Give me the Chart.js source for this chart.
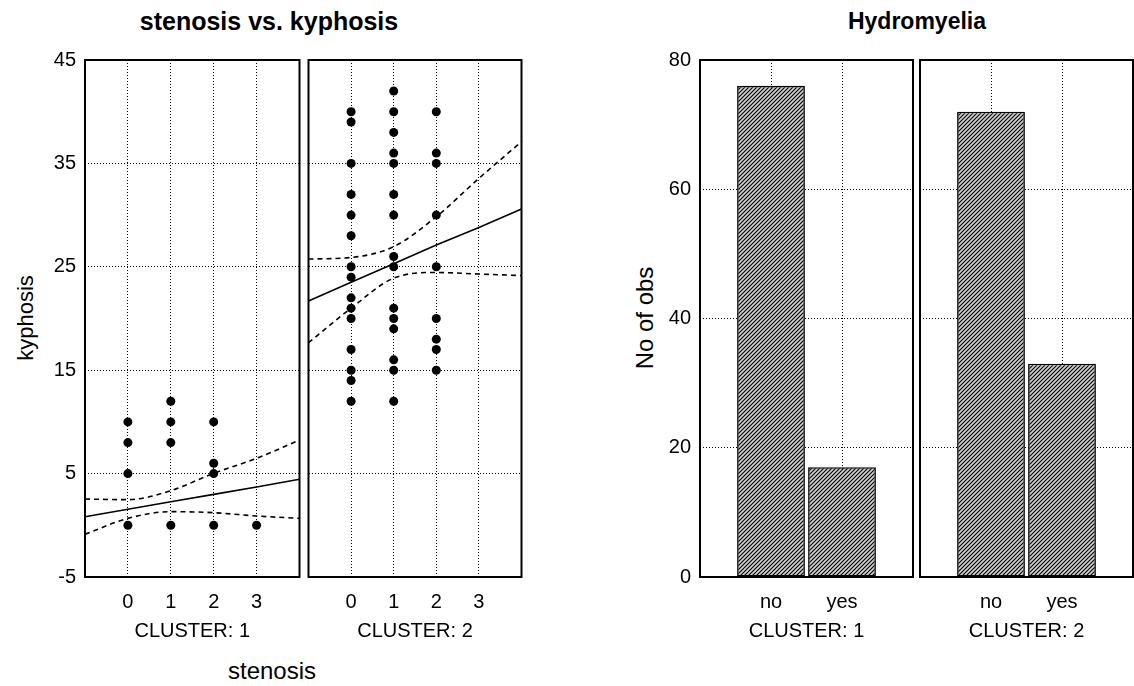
<!DOCTYPE html>
<html>
<head>
<meta charset="utf-8">
<script src="https://cdn.jsdelivr.net/npm/chart.js@4"></script>
<style>
  body { margin: 0; background: #fff; font-family: "Liberation Sans", Arial, sans-serif; }
  #wrap { position: relative; width: 1134px; height: 686px; overflow: hidden; }
  canvas { position: absolute; }
  .txt { position: absolute; color: #000; white-space: nowrap; }
  .title { font-weight: bold; }
  .rot { transform: translate(-50%, -50%) rotate(-90deg); }
</style>
</head>
<body>
<div id="wrap">
  <div class="txt title" style="left:119px; top:7px; width:300px; text-align:center; font-size:25px;">stenosis vs. kyphosis</div>
  <div class="txt title" style="left:767px; top:8px; width:300px; text-align:center; font-size:23px;">Hydromyelia</div>
  <div class="txt rot" style="left:26px; top:318px; font-size:22px;">kyphosis</div>
  <div class="txt rot" style="left:645px; top:318px; font-size:24px;">No of obs</div>
  <div class="txt" style="left:172px; top:657px; width:200px; text-align:center; font-size:24px;">stenosis</div>

  <canvas id="sc1" width="304" height="597" style="left:0px; top:50px;"></canvas>
  <canvas id="sc2" width="222" height="597" style="left:304px; top:50px;"></canvas>
  <canvas id="bar1" width="305" height="597" style="left:610px; top:50px;"></canvas>
  <canvas id="bar2" width="218" height="597" style="left:916px; top:50px;"></canvas>
</div>
<script>
// stenosis vs. kyphosis, cluster 1
const c1Stenosis = [0, 0, 0, 0, 1, 1, 1, 1, 2, 2, 2, 2, 3];
const c1Kyphosis = [10, 8, 5, 0, 12, 10, 8, 0, 10, 6, 5, 0, 0];
// cluster 2
const c2Stenosis = [0,0,0,0,0,0,0,0,0,0,0,0,0,0,0, 1,1,1,1,1,1,1,1,1,1,1,1,1,1,1, 2,2,2,2,2,2,2,2,2];
const c2Kyphosis = [40,39,35,32,30,28,25,24,22,21,20,17,15,14,12, 42,40,38,36,35,32,30,26,25,21,20,19,16,15,12, 40,36,35,30,25,20,18,17,15];

// fit line and confidence band, read at stenosis = -1 .. 4
const bandX = [-1, 0, 1, 2, 3, 4];
const c1Fit = [0.83, 1.55, 2.27, 2.99, 3.71, 4.45];
const c1Upper = [2.54, 2.48, 3.35, 5.03, 6.48, 8.25];
const c1Lower = [-0.87, 0.67, 1.32, 1.22, 0.9, 0.67];
const c2Fit = [21.7, 23.5, 25.3, 27.1, 28.8, 30.6];
const c2Upper = [25.75, 25.9, 26.95, 29.85, 33.55, 37.1];
const c2Lower = [17.66, 21.0, 23.9, 24.45, 24.3, 24.15];

const kyphTicks = [-5, 5, 15, 25, 35, 45];
const stenTicks = [0, 1, 2, 3];

// Hydromyelia counts
const hydroCats = ['', 'no', 'yes', ''];
const hydroC1 = [null, 76, 17, null];
const hydroC2 = [null, 72, 33, null];
const obsTicks = [0, 20, 40, 60, 80];

const FONT = { family: '"Liberation Sans", Arial, sans-serif', size: 20 };

const boxPlugin = {
  id: 'box',
  afterDraw(chart) {
    const a = chart.chartArea, ctx = chart.ctx;
    ctx.save();
    ctx.strokeStyle = '#000';
    ctx.lineWidth = 2;
    ctx.strokeRect(a.left, a.top, a.right - a.left, a.bottom - a.top);
    ctx.restore();
  }
};

function pts(xs, ys) {
  return xs.map((x, i) => ({ x: x, y: ys[i] }));
}

function gridOpts() {
  return { color: '#000', lineWidth: 1, drawTicks: false };
}

// fixed axis sizes, no extra label padding, so every panel lands where it should
function fixX(s) {
  s.height = 70;
  s.paddingLeft = 0; s.paddingRight = 0; s.paddingTop = 0; s.paddingBottom = 0;
}
function fixY(w) {
  return s => {
    s.width = w;
    s.paddingLeft = 0; s.paddingRight = 0; s.paddingTop = 0; s.paddingBottom = 0;
  };
}

function scatterChart(id, xs, ys, fit, up, lo, label, showY) {
  return new Chart(document.getElementById(id), {
    type: 'scatter',
    data: {
      datasets: [
        { data: pts(xs, ys), pointRadius: 4.5, pointBackgroundColor: '#000', pointBorderColor: '#000', borderWidth: 0 },
        { data: pts(bandX, fit), showLine: true, pointRadius: 0, borderColor: '#000', borderWidth: 1.6 },
        { data: pts(bandX, up), showLine: true, pointRadius: 0, borderColor: '#000', borderWidth: 1.6, borderDash: [5, 4], cubicInterpolationMode: 'monotone' },
        { data: pts(bandX, lo), showLine: true, pointRadius: 0, borderColor: '#000', borderWidth: 1.6, borderDash: [5, 4], cubicInterpolationMode: 'monotone' }
      ]
    },
    options: {
      responsive: false,
      animation: false,
      devicePixelRatio: 1,
      layout: { padding: { top: 10, right: showY ? 3 : 2, left: 0, bottom: 0 } },
      plugins: { legend: { display: false }, tooltip: { enabled: false } },
      scales: {
        x: {
          type: 'linear', min: -1, max: 4,
          afterBuildTicks: s => { s.ticks = [-1].concat(stenTicks, [4]).map(v => ({ value: v })); },
          afterFit: fixX,
          grid: gridOpts(),
          border: { display: false, dash: [1, 2] },
          ticks: { font: FONT, color: '#000', padding: 13, callback: v => stenTicks.includes(v) ? String(v) : '' },
          title: { display: true, text: label, font: FONT, color: '#000', padding: { top: 6 } }
        },
        y: {
          min: -5, max: 45,
          afterBuildTicks: s => { s.ticks = kyphTicks.map(v => ({ value: v })); },
          afterFit: fixY(showY ? 85 : 3),
          grid: gridOpts(),
          border: { display: false, dash: [1, 2] },
          ticks: { display: showY, font: FONT, color: '#000', padding: 9 }
        }
      }
    },
    plugins: [boxPlugin]
  });
}

scatterChart('sc1', c1Stenosis, c1Kyphosis, c1Fit, c1Upper, c1Lower, 'CLUSTER: 1', true);
scatterChart('sc2', c2Stenosis, c2Kyphosis, c2Fit, c2Upper, c2Lower, 'CLUSTER: 2', false);

function hatch() {
  const s = 4;
  const c = document.createElement('canvas');
  c.width = s; c.height = s;
  const g = c.getContext('2d');
  g.fillStyle = '#d0d0d0';
  g.fillRect(0, 0, s, s);
  g.strokeStyle = '#000';
  g.lineWidth = 1.1;
  g.beginPath();
  g.moveTo(0, s); g.lineTo(s, 0);
  g.moveTo(-1, 1); g.lineTo(1, -1);
  g.moveTo(s - 1, s + 1); g.lineTo(s + 1, s - 1);
  g.stroke();
  return g.createPattern(c, 'repeat');
}

function barChart(id, vals, label, showY, padRight) {
  return new Chart(document.getElementById(id), {
    type: 'bar',
    data: {
      labels: hydroCats,
      datasets: [{
        data: vals,
        backgroundColor: hatch(),
        borderColor: '#000',
        borderWidth: 1.6,
        borderSkipped: false,
        categoryPercentage: 1,
        barPercentage: 0.955
      }]
    },
    options: {
      responsive: false,
      animation: false,
      devicePixelRatio: 1,
      layout: { padding: { top: 10, right: padRight, left: 0, bottom: 0 } },
      plugins: { legend: { display: false }, tooltip: { enabled: false } },
      scales: {
        x: {
          offset: false,
          afterFit: fixX,
          grid: Object.assign(gridOpts(), { offset: false }),
          border: { display: false, dash: [1, 2] },
          ticks: { font: FONT, color: '#000', padding: 13, autoSkip: false, maxRotation: 0 },
          title: { display: true, text: label, font: FONT, color: '#000', padding: { top: 6 } }
        },
        y: {
          min: 0, max: 80,
          afterBuildTicks: s => { s.ticks = obsTicks.map(v => ({ value: v })); },
          afterFit: fixY(showY ? 90 : 4),
          grid: gridOpts(),
          border: { display: false, dash: [1, 2] },
          ticks: { display: showY, font: FONT, color: '#000', padding: 9 }
        }
      }
    },
    plugins: [boxPlugin]
  });
}

barChart('bar1', hydroC1, 'CLUSTER: 1', true, 2);
barChart('bar2', hydroC2, 'CLUSTER: 2', false, 1);
</script>
</body>
</html>
